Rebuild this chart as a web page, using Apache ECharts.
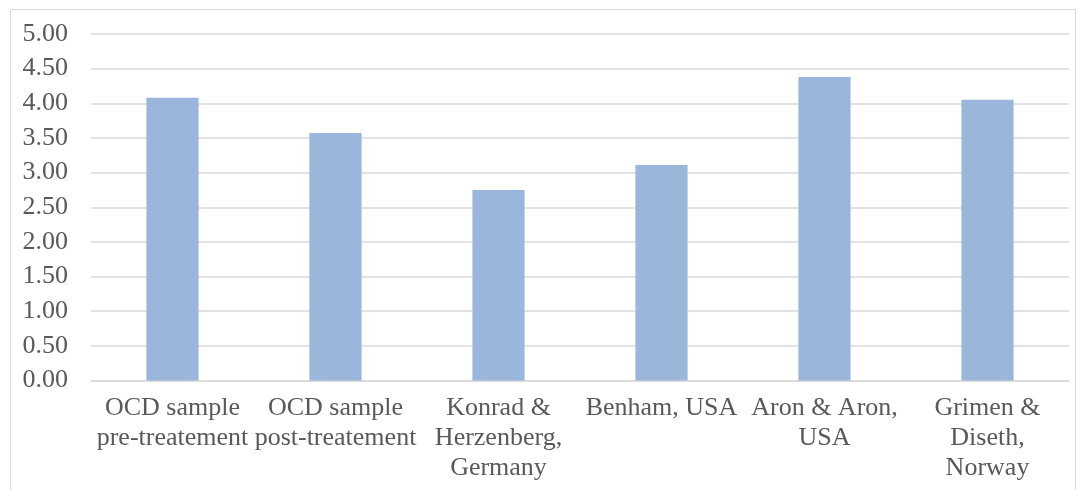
<!DOCTYPE html>
<html>
<head>
<meta charset="utf-8">
<script src="https://cdn.jsdelivr.net/npm/echarts@6/dist/echarts.min.js"></script>
<style>
html,body{margin:0;padding:0;background:#fff;}
#chart{width:1086px;height:490px;}
</style>
</head>
<body>
<div id="chart"></div>
<script>
const categories = [
  "OCD sample\npre-treatement",
  "OCD sample\npost-treatement",
  "Konrad &\nHerzenberg,\nGermany",
  "Benham, USA",
  "Aron & Aron,\nUSA",
  "Grimen &\nDiseth,\nNorway"
];
const values = [4.08, 3.57, 2.75, 3.11, 4.38, 4.05];
const yMin = 0, yMax = 5, yStep = 0.5;

const chart = echarts.init(document.getElementById('chart'), null, {renderer: 'canvas'});
const font = '"Liberation Serif", "Times New Roman", serif';
chart.setOption({
  animation: false,
  backgroundColor: '#ffffff',
  graphic: [{
    type: 'rect',
    shape: {x: 10.5, y: 9.5, width: 1065, height: 520},
    style: {fill: 'none', stroke: '#d9d9d9', lineWidth: 1},
    silent: true
  }],
  grid: {left: 91, right: 17, top: 34, bottom: 109.5, containLabel: false},
  xAxis: {
    type: 'category',
    data: categories,
    axisLine: {show: true, lineStyle: {color: '#d9d9d9', width: 1.5}},
    axisTick: {show: false},
    axisLabel: {
      interval: 0, margin: 13, color: '#595959',
      fontFamily: font, fontSize: 26, lineHeight: 30
    }
  },
  yAxis: {
    type: 'value', min: yMin, max: yMax, interval: yStep,
    axisLine: {show: false},
    axisTick: {show: false},
    splitLine: {lineStyle: {color: '#d9d9d9', width: 1.5}},
    axisLabel: {
      margin: 23, color: '#595959', fontFamily: font, fontSize: 26,
      formatter: v => v.toFixed(2)
    }
  },
  series: [{
    type: 'bar',
    data: values,
    barWidth: '32%',
    itemStyle: {color: '#9ab6da'}
  }]
});
</script>
</body>
</html>
